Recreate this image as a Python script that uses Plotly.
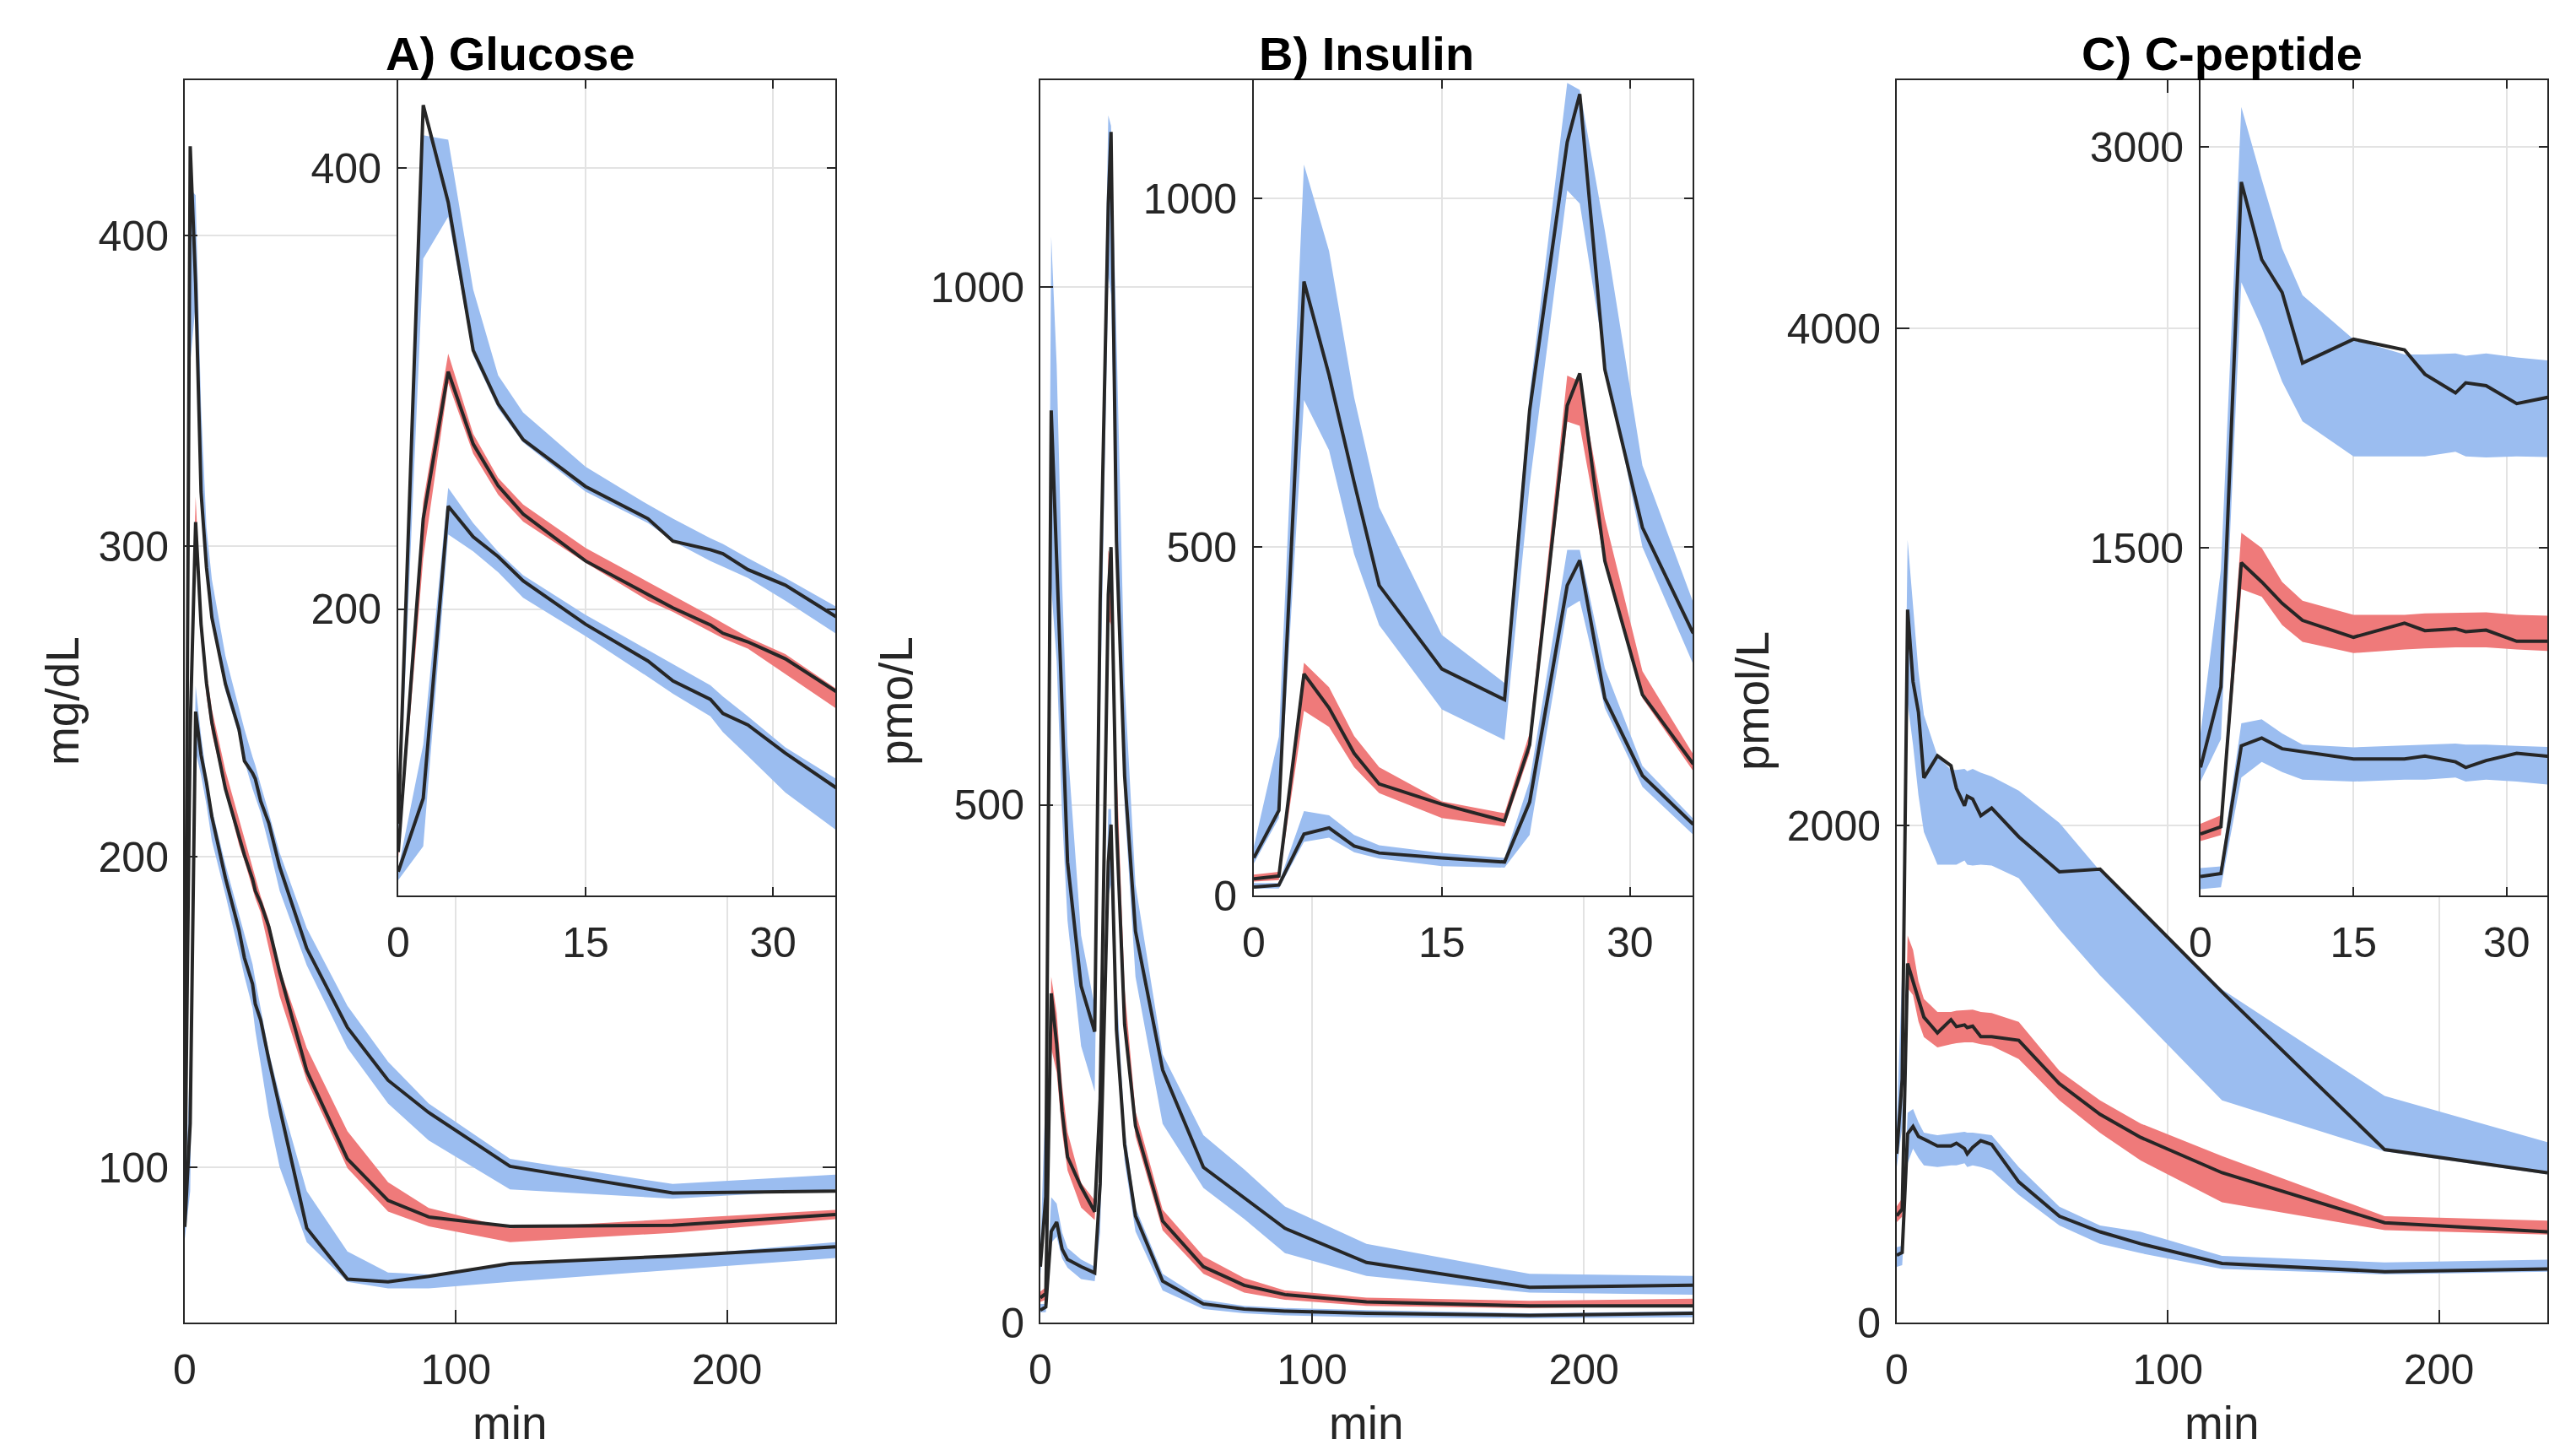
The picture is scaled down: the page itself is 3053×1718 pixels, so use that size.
import plotly.graph_objects as go

# ---------------- data ----------------
T = [0, 2, 4, 6, 8, 10, 15, 20, 22, 25, 26, 28, 31, 35, 45, 60, 75, 90, 120, 180, 240]

# Glucose (mg/dL)
glu_up_line = [102.6, 428.7, 384.6, 317.4, 293.1, 276.9, 255.6, 241.0, 230.8, 226.9, 225.1, 217.9, 210.8, 196.7, 170.5, 145, 128, 117.6, 100.3, 91.7, 92.3]
glu_up_lo = [97, 359, 378, 315, 291, 275.6, 253.3, 239, 230.8, 221.8, 219.2, 214.1, 203.8, 189, 165, 138.4, 120.5, 108.6, 92.9, 89.9, 92.9]
glu_up_hi = [105, 415, 413, 345, 306, 289.2, 264.6, 247.4, 241, 232.1, 229.5, 223.1, 214.1, 201.3, 177, 152, 134, 120.5, 102.7, 94.6, 97.6]
glu_mid_line = [89.7, 241, 307.7, 274.9, 255.9, 243.1, 221.8, 206.4, 200.5, 192.8, 189, 185.1, 177.4, 162.8, 131, 102.7, 89.3, 84, 81, 81.3, 84.8]
glu_mid_lo = [87, 223, 302.6, 270.5, 251.8, 239.7, 221, 203.8, 198.7, 189.7, 186.7, 182, 170.5, 155.1, 128, 99.7, 85.7, 81, 75.9, 78.9, 83.3]
glu_mid_hi = [92, 248.7, 315.9, 279.5, 259.5, 247.4, 227.7, 212.3, 206.4, 196.9, 193.6, 187.2, 179.5, 164.1, 138.4, 111.6, 95.2, 86.9, 80.4, 83.3, 86.3]
glu_low_line = [80.8, 114.1, 246.7, 232.8, 223.8, 212.8, 193.1, 176.4, 167.4, 159, 152.6, 147.4, 134.6, 119.2, 80.4, 64, 63.1, 64.9, 69, 71.4, 74.4]
glu_low_lo = [77, 92.3, 233.8, 226.2, 216.7, 205.1, 187.7, 169.2, 161.5, 151.3, 144.1, 133.3, 116.7, 100, 75.9, 63.1, 61, 61, 63.1, 67, 70.8]
glu_low_hi = [82, 138.5, 255, 239, 226, 215.4, 197.4, 181.5, 174.9, 165.4, 160.3, 151.3, 137.2, 123.1, 92.3, 72.9, 66.1, 65.5, 68.5, 71.4, 75.9]

# Insulin (pmol/L)
ins_up_line = [54, 122, 881, 747, 593, 445, 325, 281, 696, 1081, 1150, 755, 528, 378, 244, 150, 121, 91, 58, 34, 36]
ins_up_lo = [46, 111, 711, 639, 490, 388, 267, 223, 589, 1012, 993, 767, 500, 334, 192, 130, 100, 67, 45, 29, 27]
ins_up_hi = [70, 228, 1049, 925, 715, 557, 374, 305, 719, 1166, 1156, 954, 617, 423, 259, 181, 148, 112, 76, 47, 45]
ins_mid_line = [24, 28, 318, 269, 204, 160, 131, 107, 216, 703, 749, 480, 288, 190, 98, 54, 36, 27, 20, 16, 16]
ins_mid_lo = [20, 22, 265, 242, 184, 147, 111, 99, 204, 680, 674, 476, 283, 180, 89, 47, 29, 22, 16, 14, 16]
ins_mid_hi = [30, 34, 334, 299, 229, 184, 135, 118, 233, 746, 738, 541, 322, 204, 109, 64, 43, 31, 24, 21, 23]
ins_low_line = [12, 15, 88, 97, 71, 61, 54, 48, 134, 445, 481, 283, 172, 103, 40, 18, 13, 11, 9, 7, 9]
ins_low_lo = [10, 10, 77, 83, 62, 53, 42, 40, 87, 412, 423, 269, 156, 88, 31, 13, 9, 7, 5, 4, 5]
ins_low_hi = [18, 18, 121, 115, 87, 72, 61, 54, 164, 496, 496, 326, 186, 111, 47, 22, 16, 14, 12, 9, 11]

# C-peptide (pmol/L)
cp_up_line = [679, 980, 2869, 2579, 2456, 2192, 2281, 2241, 2150, 2080, 2118, 2107, 2040, 2071, 1955, 1814, 1825, 1660, 1330, 696, 603]
cp_up_lo = [626, 785, 2494, 2325, 2122, 1974, 1843, 1843, 1843, 1860, 1843, 1839, 1843, 1839, 1788, 1583, 1397, 1229, 894, 689, 596]
cp_up_hi = [806, 1420, 3150, 2879, 2621, 2446, 2281, 2224, 2224, 2228, 2219, 2228, 2213, 2198, 2141, 2011, 1817, 1658, 1341, 912, 726]
cp_mid_line = [430, 457, 1445, 1373, 1293, 1229, 1166, 1219, 1191, 1198, 1187, 1193, 1151, 1151, 1136, 961, 838, 745, 603, 402, 365]
cp_mid_lo = [404, 426, 1346, 1318, 1212, 1149, 1107, 1120, 1124, 1128, 1128, 1128, 1120, 1113, 1061, 894, 763, 652, 484, 372, 354]
cp_mid_hi = [468, 500, 1557, 1500, 1373, 1303, 1250, 1250, 1255, 1257, 1257, 1259, 1250, 1246, 1210, 1013, 894, 801, 670, 428, 410]
cp_low_line = [271, 282, 760, 789, 749, 739, 711, 711, 722, 700, 679, 705, 732, 717, 566, 428, 365, 317, 238, 205, 216]
cp_low_lo = [224, 231, 641, 700, 662, 633, 626, 633, 633, 641, 626, 633, 626, 612, 514, 391, 317, 279, 216, 194, 205]
cp_low_hi = [303, 309, 844, 859, 806, 764, 754, 760, 764, 768, 764, 764, 760, 754, 626, 466, 391, 365, 268, 242, 253]

titles = ["A) Glucose", "B) Insulin", "C) C-peptide"]
ylabels = ["mg/dL", "pmo/L", "pmol/L"]
xlabel = "min"

main_xticks = [0, 100, 200]
inset_xticks = [0, 15, 30]
main_yticks = [[100, 200, 300, 400], [0, 500, 1000], [0, 2000, 4000]]
inset_yticks = [[200, 400], [0, 500, 1000], [1500, 3000]]
main_yrange = [[50, 450], [0, 1200], [0, 5000]]
inset_yrange = [[70, 440], [0, 1170], [200, 3250]]
main_xrange = [0, 240]
inset_xrange = [[0, 35], [0, 35], [0, 34]]

groups = [
    [(glu_up_line, glu_up_lo, glu_up_hi, "blue"), (glu_mid_line, glu_mid_lo, glu_mid_hi, "red"), (glu_low_line, glu_low_lo, glu_low_hi, "blue")],
    [(ins_up_line, ins_up_lo, ins_up_hi, "blue"), (ins_mid_line, ins_mid_lo, ins_mid_hi, "red"), (ins_low_line, ins_low_lo, ins_low_hi, "blue")],
    [(cp_up_line, cp_up_lo, cp_up_hi, "blue"), (cp_mid_line, cp_mid_lo, cp_mid_hi, "red"), (cp_low_line, cp_low_lo, cp_low_hi, "blue")],
]

# ---------------- styling / layout geometry ----------------
W, H = 3053, 1718
FONT = "Liberation Sans, Arial, Helvetica, sans-serif"
TXT = "#262626"
BAND = {"blue": "rgb(155,189,240)", "red": "rgb(239,122,122)"}
LINE_C = "#262626"
GRID_C = "#e3e3e3"

TOP, BOT, INS_BOT = 95, 1567, 1061
main_lr = [(219, 990), (1233, 2006), (2248, 3019)]
inset_left = [472, 1486, 2608]

def fx(p):
    return p / W

def fy(p):
    return 1 - p / H

fig = go.Figure()
layout_axes = {}
shapes = []
annotations = []

def axname(kind, n):
    return kind if n == 1 else f"{kind}{n}"

for i in range(3):
    nm = 2 * i + 1   # main axis index
    ni = 2 * i + 2   # inset axis index
    for n in (nm, ni):
        xa, ya = axname("x", n), axname("y", n)
        for line, lo, hi, col in groups[i]:
            fig.add_trace(go.Scatter(
                x=T + T[::-1], y=hi + lo[::-1], xaxis=xa, yaxis=ya,
                fill="toself", fillcolor=BAND[col], line=dict(width=0),
                mode="lines", hoverinfo="skip", showlegend=False))
        for line, lo, hi, col in groups[i]:
            fig.add_trace(go.Scatter(
                x=T, y=line, xaxis=xa, yaxis=ya, mode="lines",
                line=dict(color=LINE_C, width=4), showlegend=False))

    l, r = main_lr[i]
    common = dict(showline=True, linecolor=TXT, linewidth=2, mirror="ticks",
                  ticks="inside", tickcolor=TXT, tickwidth=2,
                  showgrid=True, gridcolor=GRID_C, gridwidth=1.5,
                  zeroline=False, automargin=False,
                  tickfont=dict(family=FONT, size=50, color=TXT))
    layout_axes[axname("xaxis", nm)] = dict(
        common, domain=[fx(l), fx(r)], range=main_xrange, tickvals=main_xticks,
        ticklen=15, anchor=axname("y", nm), ticklabelstandoff=11)
    layout_axes[axname("yaxis", nm)] = dict(
        common, domain=[fy(BOT), fy(TOP)], range=main_yrange[i], tickvals=main_yticks[i],
        ticklen=15, anchor=axname("x", nm), ticklabelstandoff=7)
    layout_axes[axname("xaxis", ni)] = dict(
        common, domain=[fx(inset_left[i]), fx(r)], range=inset_xrange[i], tickvals=inset_xticks,
        ticklen=10, anchor=axname("y", ni), ticklabelstandoff=11)
    layout_axes[axname("yaxis", ni)] = dict(
        common, domain=[fy(INS_BOT), fy(TOP)], range=inset_yrange[i], tickvals=inset_yticks[i],
        ticklen=10, anchor=axname("x", ni), ticklabelstandoff=8)

    # white background of the inset (covers main grid underneath)
    shapes.append(dict(type="rect", xref=axname("x", ni), yref=axname("y", ni),
                       x0=inset_xrange[i][0], x1=inset_xrange[i][1],
                       y0=inset_yrange[i][0], y1=inset_yrange[i][1],
                       fillcolor="white", line=dict(width=0), layer="below"))

    cx = fx((l + r) / 2)
    annotations.append(dict(text=f"<b>{titles[i]}</b>", x=cx, y=fy(63), xref="paper", yref="paper",
                            xanchor="center", yanchor="middle", showarrow=False,
                            font=dict(family=FONT, size=56, color="black")))
    annotations.append(dict(text=xlabel, x=cx, y=0, xref="paper", yref="paper",
                            xanchor="center", yanchor="bottom", showarrow=False, borderpad=0,
                            font=dict(family=FONT, size=55, color=TXT)))
    ylab_x = [74, 1062, 2077][i]
    annotations.append(dict(text=ylabels[i], x=fx(ylab_x), y=fy((TOP + BOT) / 2), xref="paper", yref="paper",
                            xanchor="center", yanchor="middle", showarrow=False, textangle=-90,
                            font=dict(family=FONT, size=55, color=TXT)))

fig.update_layout(
    width=W, height=H, autosize=False,
    margin=dict(l=0, r=0, t=0, b=0, pad=0, autoexpand=False),
    paper_bgcolor="white", plot_bgcolor="white",
    showlegend=False,
    shapes=shapes, annotations=annotations,
    **layout_axes,
)

fig.write_html(
    "out.html",
    config={"displayModeBar": False},
    post_script="document.body.style.margin='0';document.body.style.padding='0';"
                "document.body.style.overflow='hidden';",
)
